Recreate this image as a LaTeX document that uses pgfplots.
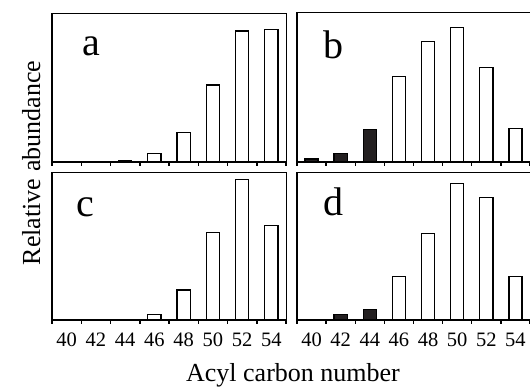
\documentclass[border=0pt]{standalone}
\usepackage{pgfplots}
\pgfplotsset{compat=1.18}
\usepackage{fontspec}
\setmainfont{Liberation Serif}
\definecolor{barblack}{HTML}{231F20}
\begin{document}
\begin{tikzpicture}
\path[use as bounding box] (0bp,0bp) rectangle (530bp,-389bp);
\pgfplotsset{
  panel/.style={
    scale only axis,
    anchor=south west,
    xmin=-0.5, xmax=7.5, ymin=0, ymax=100,
    ytick=\empty,
    xtick={0,...,7},
    xticklabels={40,42,44,46,48,50,52,54},
    major tick length=0pt,
    minor xtick={-0.5,0.5,...,7.5},
    minor tick length=3.5bp,
    tick align=outside,
    xtick pos=bottom,
    every minor tick/.style={line width=1.5bp, black},
    axis line style={line width=0.8bp},
    xticklabel style={font=\fontsize{20.5bp}{24bp}\selectfont, anchor=base, yshift=-26.5bp},
    /pgf/number format/assume math mode=true,
    clip=false,
  },
  wbar/.style={ybar, bar shift=0pt, bar width=0.45, fill=white, draw=black, line width=1.3bp},
  bbar/.style={ybar, bar shift=0pt, bar width=0.45, fill=barblack, draw=black, line width=1.3bp},
}
\newcommand{\thickframe}{\draw[line width=2bp] (rel axis cs:0,1) -- (rel axis cs:0,0) -- (rel axis cs:1,0);}
\newcommand{\plabel}[3]{\node[anchor=base, font=\fontsize{40bp}{40bp}\selectfont] at (rel axis cs:#1,#2) {#3};}

% panel a
\begin{axis}[panel, at={(52bp,-162bp)}, width=234bp, height=149bp, xticklabels={}]
\addplot[wbar] coordinates {(2,1) (3,5.8) (4,19.7) (5,51.7) (6,88) (7,89)};
\thickframe
\plabel{0.167}{0.718}{a}
\end{axis}

% panel b
\begin{axis}[panel, at={(297bp,-162bp)}, width=233bp, height=150bp, xticklabels={}]
\addplot[bbar] coordinates {(0,2) (1,5.6) (2,21.5)};
\addplot[wbar] coordinates {(3,56.8) (4,80.3) (5,89.7) (6,63) (7,22.4)};
\thickframe
\plabel{0.155}{0.693}{b}
\end{axis}

% panel c
\begin{axis}[panel, at={(52bp,-320bp)}, width=234bp, height=148bp]
\addplot[wbar] coordinates {(3,3.8) (4,20.3) (5,59.3) (6,95) (7,63.7)};
\thickframe
\plabel{0.141}{0.696}{c}
\end{axis}

% panel d
\begin{axis}[panel, at={(297bp,-320bp)}, width=233bp, height=148bp]
\addplot[bbar] coordinates {(1,3.6) (2,7)};
\addplot[wbar] coordinates {(3,29.3) (4,58.6) (5,92.4) (6,83) (7,29.3)};
\thickframe
\plabel{0.155}{0.709}{d}
\end{axis}

\node[anchor=base, font=\fontsize{26bp}{30bp}\selectfont] at (293bp,-381.5bp) {Acyl carbon number};
\node[rotate=90, anchor=base, font=\fontsize{26bp}{30bp}\selectfont] at (40bp,-163bp) {Relative abundance};
\end{tikzpicture}
\end{document}
